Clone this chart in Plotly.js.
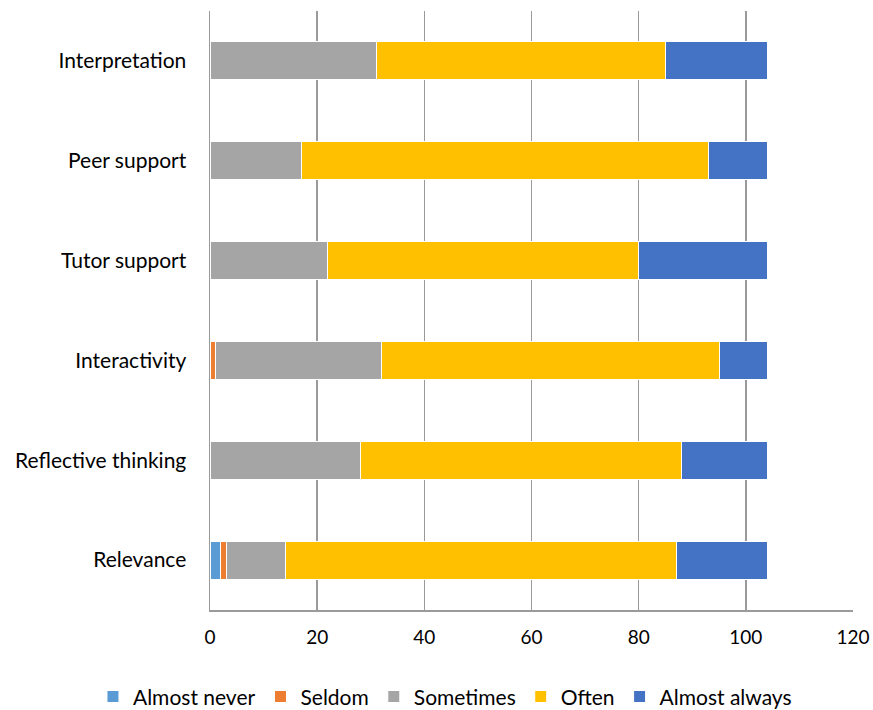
<!DOCTYPE html>
<html>
<head>
<meta charset="utf-8">
<script src="https://cdn.plot.ly/plotly-3.0.1.min.js"></script>
<style>html,body{margin:0;padding:0;background:#fff;}#chart{width:873px;height:710px;}</style>
</head>
<body>
<div id="chart"></div>
<script>
var categories = ['Relevance','Reflective thinking','Interactivity','Tutor support','Peer support','Interpretation'];
var seriesNames = ['Almost never','Seldom','Sometimes','Often','Almost always'];
var almostNever  = [2, 0, 0, 0, 0, 0];
var seldom       = [1, 0, 1, 0, 0, 0];
var sometimes    = [11, 28, 31, 22, 17, 31];
var often        = [73, 60, 63, 58, 76, 54];
var almostAlways = [17, 16, 9, 24, 11, 19];
var xTicks = [0, 20, 40, 60, 80, 100, 120];

var colors = ['#5b9bd5', '#ed7d31', '#a5a5a5', '#ffc000', '#4472c4'];
var values = [almostNever, seldom, sometimes, often, almostAlways];

var traces = values.map(function(v, i) {
  return {
    type: 'bar', orientation: 'h', name: seriesNames[i],
    y: categories, x: v,
    marker: {color: colors[i], line: {color: '#ffffff', width: 1}},
    hoverinfo: 'x+name'
  };
});

var layout = {
  width: 873, height: 710,
  margin: {l: 210, r: 20, t: 11, b: 100, autoexpand: false},
  barmode: 'stack',
  bargap: 0.62,
  paper_bgcolor: '#ffffff', plot_bgcolor: '#ffffff',
  font: {family: 'Lato, "Open Sans", sans-serif', size: 21, color: '#000000'},
  xaxis: {
    range: [0, 120], tickvals: xTicks, ticktext: xTicks.map(String),
    tickfont: {size: 19},
    showgrid: true, gridcolor: '#9a9a9a', gridwidth: 1.5,
    zeroline: false, showline: true, linecolor: '#9a9a9a', linewidth: 1.5,
    ticks: '', ticklabelstandoff: 10, fixedrange: true, automargin: false
  },
  yaxis: {
    categoryorder: 'array', categoryarray: categories,
    showgrid: false, zeroline: false, showline: true, linecolor: '#9a9a9a', linewidth: 1.5,
    ticks: '', ticklabelstandoff: 18, fixedrange: true, automargin: false
  },
  showlegend: true,
  legend: {
    orientation: 'h', x: -0.182, xanchor: 'left', y: -0.145, yanchor: 'middle',
    traceorder: 'normal', font: {size: 21}, itemwidth: 30
  }
};

Plotly.newPlot('chart', traces, layout, {displayModeBar: false, staticPlot: true});
</script>
</body>
</html>
